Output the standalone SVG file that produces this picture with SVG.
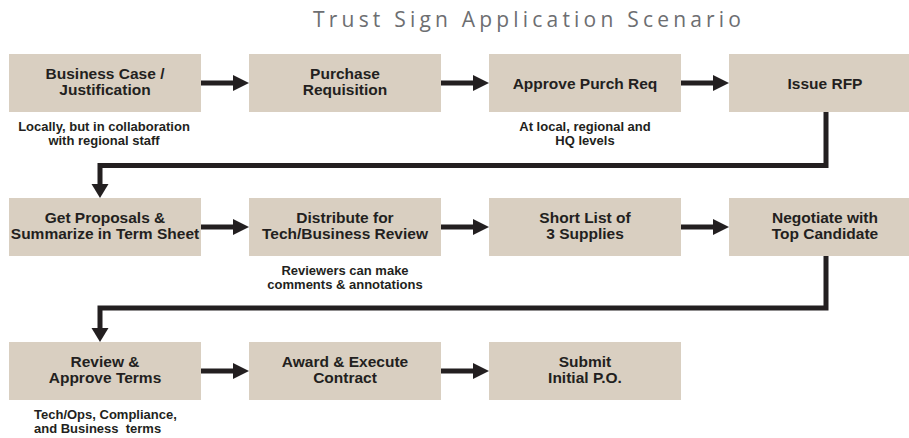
<svg xmlns="http://www.w3.org/2000/svg" width="909" height="438" viewBox="0 0 909 438">
  <style>
    .box { fill: #d9cfc1; }
    .label { font-family: "Liberation Sans", Arial, sans-serif; font-weight: bold; font-size: 15.5px; fill: #231f20; text-anchor: middle; }
    .note { font-family: "Liberation Sans", Arial, sans-serif; font-weight: bold; font-size: 13px; fill: #231f20; text-anchor: middle; white-space: pre; }
    .note.left { text-anchor: start; }
    .title { font-family: "Open Sans", "Liberation Sans", sans-serif; font-size: 21px; fill: #6d6e71; }
    .wire { fill: none; stroke: #231f20; stroke-width: 5; stroke-linejoin: miter; }
    .head { fill: #231f20; }
  </style>

  <rect width="909" height="438" fill="#ffffff"/>

  <text class="title" x="313" y="27" textLength="428" lengthAdjust="spacing">Trust Sign Application Scenario</text>

  <!-- connectors -->
  <g id="connectors">
    <!-- row 1 -->
    <line class="wire" x1="201" y1="83" x2="234" y2="83"/>
    <polygon class="head" points="233,75 249,83 233,91"/>
    <line class="wire" x1="441" y1="83" x2="474" y2="83"/>
    <polygon class="head" points="473,75 489,83 473,91"/>
    <line class="wire" x1="681" y1="83" x2="714" y2="83"/>
    <polygon class="head" points="713,75 729,83 713,91"/>
    <!-- row 1 to row 2 -->
    <polyline class="wire" points="826,112 826,165.5 100,165.5 100,185"/>
    <polygon class="head" points="91.5,184 108.5,184 100,198"/>
    <!-- row 2 -->
    <line class="wire" x1="201" y1="227" x2="234" y2="227"/>
    <polygon class="head" points="233,219 249,227 233,235"/>
    <line class="wire" x1="441" y1="227" x2="474" y2="227"/>
    <polygon class="head" points="473,219 489,227 473,235"/>
    <line class="wire" x1="681" y1="227" x2="714" y2="227"/>
    <polygon class="head" points="713,219 729,227 713,235"/>
    <!-- row 2 to row 3 -->
    <polyline class="wire" points="826,256 826,308 100,308 100,329"/>
    <polygon class="head" points="91.5,328 108.5,328 100,342"/>
    <!-- row 3 -->
    <line class="wire" x1="201" y1="371" x2="234" y2="371"/>
    <polygon class="head" points="233,363 249,371 233,379"/>
    <line class="wire" x1="441" y1="371" x2="474" y2="371"/>
    <polygon class="head" points="473,363 489,371 473,379"/>
  </g>

  <!-- row 1 -->
  <g id="business-case">
    <rect class="box" x="9" y="54" width="192" height="58"/>
    <text class="label" x="105" y="79">Business Case /</text>
    <text class="label" x="105" y="94.5">Justification</text>
    <text class="note" x="104" y="131">Locally, but in collaboration</text>
    <text class="note" x="104" y="144.5">with regional staff</text>
  </g>
  <g id="purchase-requisition">
    <rect class="box" x="249" y="54" width="192" height="58"/>
    <text class="label" x="345" y="79">Purchase</text>
    <text class="label" x="345" y="94.5">Requisition</text>
  </g>
  <g id="approve-purch-req">
    <rect class="box" x="489" y="54" width="192" height="58"/>
    <text class="label" x="585" y="88.5">Approve Purch Req</text>
    <text class="note" x="585" y="131">At local, regional and</text>
    <text class="note" x="585" y="144.5">HQ levels</text>
  </g>
  <g id="issue-rfp">
    <rect class="box" x="729" y="54" width="192" height="58"/>
    <text class="label" x="825" y="88.5">Issue RFP</text>
  </g>

  <!-- row 2 -->
  <g id="get-proposals">
    <rect class="box" x="9" y="198" width="192" height="58"/>
    <text class="label" x="105" y="223">Get Proposals &amp;</text>
    <text class="label" x="105" y="238.5">Summarize in Term Sheet</text>
  </g>
  <g id="distribute-review">
    <rect class="box" x="249" y="198" width="192" height="58"/>
    <text class="label" x="345" y="223">Distribute for</text>
    <text class="label" x="345" y="238.5">Tech/Business Review</text>
    <text class="note" x="345" y="275">Reviewers can make</text>
    <text class="note" x="345" y="288.5">comments &amp; annotations</text>
  </g>
  <g id="short-list">
    <rect class="box" x="489" y="198" width="192" height="58"/>
    <text class="label" x="585" y="223">Short List of</text>
    <text class="label" x="585" y="238.5">3 Supplies</text>
  </g>
  <g id="negotiate">
    <rect class="box" x="729" y="198" width="192" height="58"/>
    <text class="label" x="825" y="223">Negotiate with</text>
    <text class="label" x="825" y="238.5">Top Candidate</text>
  </g>

  <!-- row 3 -->
  <g id="review-approve">
    <rect class="box" x="9" y="342" width="192" height="58"/>
    <text class="label" x="105" y="367">Review &amp;</text>
    <text class="label" x="105" y="382.5">Approve Terms</text>
    <text class="note left" x="34" y="419.3">Tech/Ops, Compliance,</text>
    <text class="note left" x="34" y="432.7" xml:space="preserve">and Business  terms</text>
  </g>
  <g id="award-execute">
    <rect class="box" x="249" y="342" width="192" height="58"/>
    <text class="label" x="345" y="367">Award &amp; Execute</text>
    <text class="label" x="345" y="382.5">Contract</text>
  </g>
  <g id="submit-po">
    <rect class="box" x="489" y="342" width="192" height="58"/>
    <text class="label" x="585" y="367">Submit</text>
    <text class="label" x="585" y="382.5">Initial P.O.</text>
  </g>
</svg>
